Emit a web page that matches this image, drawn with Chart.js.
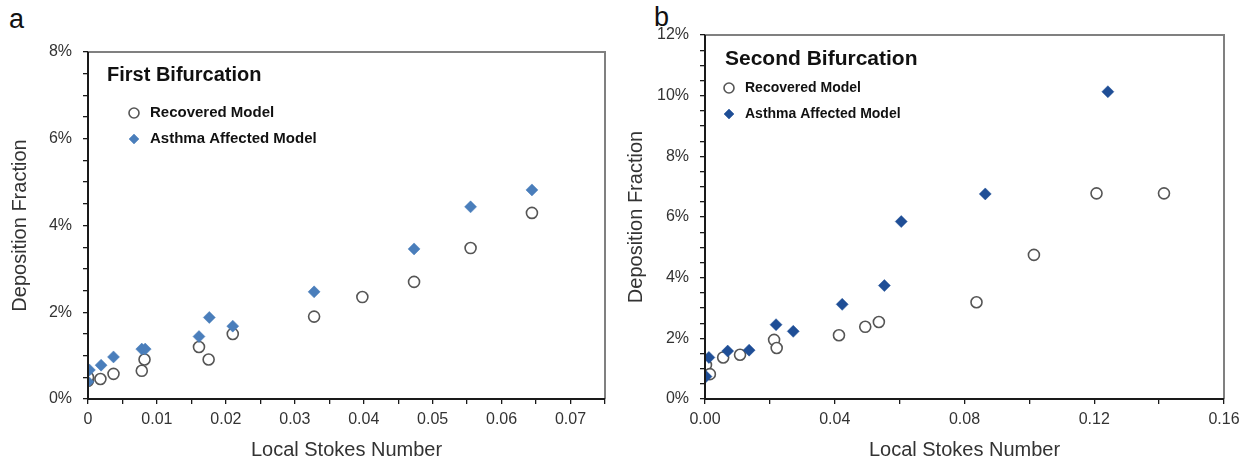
<!DOCTYPE html>
<html><head><meta charset="utf-8">
<script src="https://cdn.jsdelivr.net/npm/chart.js@4.4.0/dist/chart.umd.min.js"></script>
<style>
body{margin:0;background:#fff;width:1259px;height:464px;overflow:hidden;position:relative;font-family:"Liberation Sans",Arial,sans-serif}
.panel{position:absolute;top:0;height:464px}
.lbl{position:absolute;font-size:27px;color:#111;line-height:1}
</style></head><body>
<div class="lbl" style="left:9px;top:6px">a</div>
<div class="lbl" style="left:654px;top:4px">b</div>
<div class="panel" style="left:0;width:630px"><canvas id="c1" width="630" height="464"></canvas></div>
<div class="panel" style="left:620px;width:639px"><canvas id="c2" width="639" height="464"></canvas></div>
<script>
// ---- Data (Deposition fraction in %) ----
const firstRecoveredStokes = [0, 0, 0.0018, 0.0037, 0.0078, 0.0082, 0.0161, 0.0175, 0.021, 0.0328, 0.0398, 0.0473, 0.0555, 0.0644];
const firstRecoveredDep    = [0.42, 0.50, 0.46, 0.58, 0.65, 0.91, 1.20, 0.91, 1.50, 1.90, 2.35, 2.70, 3.48, 4.29];
const firstAsthmaStokes    = [0, 0.0002, 0.0019, 0.0037, 0.0078, 0.0083, 0.0161, 0.0176, 0.021, 0.0328, 0.0473, 0.0555, 0.0644];
const firstAsthmaDep       = [0.40, 0.67, 0.78, 0.97, 1.15, 1.15, 1.44, 1.88, 1.68, 2.47, 3.46, 4.43, 4.82];

const secondRecoveredStokes = [0.0003, 0.0015, 0.0056, 0.0108, 0.0213, 0.0221, 0.0413, 0.0494, 0.0536, 0.0837, 0.1014, 0.1207, 0.1415];
const secondRecoveredDep    = [1.12, 0.82, 1.37, 1.46, 1.95, 1.68, 2.10, 2.38, 2.54, 3.19, 4.75, 6.78, 6.78];
const secondAsthmaStokes    = [0.0003, 0.0012, 0.007, 0.0136, 0.0219, 0.0272, 0.0423, 0.0553, 0.0605, 0.0864, 0.1242];
const secondAsthmaDep       = [0.74, 1.37, 1.58, 1.61, 2.45, 2.23, 3.12, 3.74, 5.85, 6.76, 10.13];

// ---- Tick labels ----
const firstXTickLabels  = ['0', '0.01', '0.02', '0.03', '0.04', '0.05', '0.06', '0.07'];
const firstYTickLabels  = ['0%', '2%', '4%', '6%', '8%'];
const secondXTickLabels = ['0.00', '0.04', '0.08', '0.12', '0.16'];
const secondYTickLabels = ['0%', '2%', '4%', '6%', '8%', '10%', '12%'];

const seriesNames = ['Recovered Model', 'Asthma Affected Model'];
const panelTitles = ['First Bifurcation', 'Second Bifurcation'];

const FONT = '"Liberation Sans", Arial, sans-serif';
const pts = (xs, ys) => xs.map((x, i) => ({x: x, y: ys[i]}));

const insideLegend = {
  id: 'insideLegend',
  afterDatasetsDraw(chart, args, o) {
    const ctx = chart.ctx;
    ctx.save();
    ctx.fillStyle = '#111';
    ctx.textBaseline = 'middle';
    ctx.textAlign = 'left';
    ctx.font = 'bold ' + o.titleSize + 'px ' + FONT;
    ctx.fillText(o.title, o.titleX, o.titleY);
    ctx.font = 'bold ' + o.itemSize + 'px ' + FONT;
    chart.data.datasets.forEach((ds) => {
      const i = o.names.indexOf(ds.label);
      const y = o.itemY[i];
      ctx.fillStyle = ds.backgroundColor;
      ctx.strokeStyle = ds.borderColor;
      ctx.lineWidth = ds.borderWidth;
      Chart.helpers.drawPoint(ctx, {pointStyle: ds.pointStyle, radius: o.markerR, borderWidth: ds.borderWidth, rotation: 0}, o.markerX, y);
      ctx.fillStyle = '#111';
      ctx.fillText(ds.label, o.textX, y);
    });
    ctx.restore();
  }
};

const frame = {
  id: 'frame',
  afterDraw(chart) {
    const a = chart.chartArea, ctx = chart.ctx;
    ctx.save();
    ctx.strokeStyle = '#808080';
    ctx.lineWidth = 2;
    ctx.beginPath();
    ctx.moveTo(a.left, a.top);
    ctx.lineTo(a.right, a.top);
    ctx.lineTo(a.right, a.bottom);
    ctx.stroke();
    ctx.strokeStyle = '#1a1a1a';
    ctx.beginPath();
    ctx.moveTo(a.left, a.top);
    ctx.lineTo(a.left, a.bottom);
    ctx.lineTo(a.right, a.bottom);
    ctx.stroke();
    ctx.restore();
  }
};

function makeChart(id, cfg) {
  return new Chart(document.getElementById(id), {
    type: 'scatter',
    data: {
      datasets: [
        {label: seriesNames[0], data: pts(cfg.recX, cfg.recY), pointStyle: 'circle', pointRadius: 5.5,
         backgroundColor: '#ffffff', borderColor: '#555555', borderWidth: 1.6, order: 1},
        {label: seriesNames[1], data: pts(cfg.astX, cfg.astY), pointStyle: 'rectRot', pointRadius: 6,
         backgroundColor: cfg.diamond, borderColor: cfg.diamond, borderWidth: 0.5, order: 0}
      ]
    },
    options: {
      responsive: false, animation: false, devicePixelRatio: 1,
      layout: {padding: {top: cfg.top, right: cfg.right, left: 0, bottom: 0}},
      plugins: {legend: {display: false}, tooltip: {enabled: false},
        insideLegend: cfg.legend},
      scales: {
        x: {
          type: 'linear', min: 0, max: cfg.xMax,
          afterFit: (s) => { s.height = 65; },
          ticks: {stepSize: cfg.xStep, color: '#333', font: {family: FONT, size: 16}, padding: 6, maxRotation: 0, autoSkip: false,
            callback: (v) => { const k = Math.round(v / cfg.xMajor); return Math.abs(k * cfg.xMajor - v) < 1e-7 ? cfg.xLabels[k] : ''; }},
          grid: {drawOnChartArea: false, drawTicks: true, tickLength: 5, color: '#1a1a1a', lineWidth: 1.3},
          border: {display: true, color: '#1a1a1a', width: 2},
          title: {display: true, text: 'Local Stokes Number', color: '#333', font: {family: FONT, size: 20}, padding: {top: 0, bottom: 2}}
        },
        y: {
          type: 'linear', min: 0, max: cfg.yMax,
          afterFit: (s) => { s.width = cfg.yWidth; },
          ticks: {stepSize: 0.5, color: '#333', font: {family: FONT, size: 16}, padding: 11, autoSkip: false,
            callback: (v) => { const k = Math.round(v / 2); return Math.abs(k * 2 - v) < 1e-7 ? cfg.yLabels[k] : ''; }},
          grid: {drawOnChartArea: false, drawTicks: true, tickLength: 5, color: '#1a1a1a', lineWidth: 1.3},
          border: {display: true, color: '#1a1a1a', width: 2},
          title: {display: true, text: 'Deposition Fraction', color: '#333', font: {family: FONT, size: 20}, padding: {top: cfg.titlePad, bottom: 0}}
        }
      }
    },
    plugins: [insideLegend, frame]
  });
}

makeChart('c1', {
  recX: firstRecoveredStokes, recY: firstRecoveredDep, astX: firstAsthmaStokes, astY: firstAsthmaDep,
  diamond: '#4a7ebb', xMax: 0.075, xStep: 0.005, xMajor: 0.01, xLabels: firstXTickLabels,
  yMax: 8, yLabels: firstYTickLabels, top: 52, right: 25, yWidth: 88, titlePad: 8,
  legend: {title: panelTitles[0], titleX: 107, titleY: 75, titleSize: 20, itemSize: 15,
    names: seriesNames, markerX: 134, textX: 150, itemY: [113, 139], markerR: 5}
});

makeChart('c2', {
  recX: secondRecoveredStokes, recY: secondRecoveredDep, astX: secondAsthmaStokes, astY: secondAsthmaDep,
  diamond: '#1f4e96', xMax: 0.16, xStep: 0.02, xMajor: 0.04, xLabels: secondXTickLabels,
  yMax: 12, yLabels: secondYTickLabels, top: 35, right: 35, yWidth: 85, titlePad: 4,
  legend: {title: panelTitles[1], titleX: 105, titleY: 59, titleSize: 21, itemSize: 14,
    names: seriesNames, markerX: 109, textX: 125, itemY: [88, 114], markerR: 5}
});
</script>
</body></html>
